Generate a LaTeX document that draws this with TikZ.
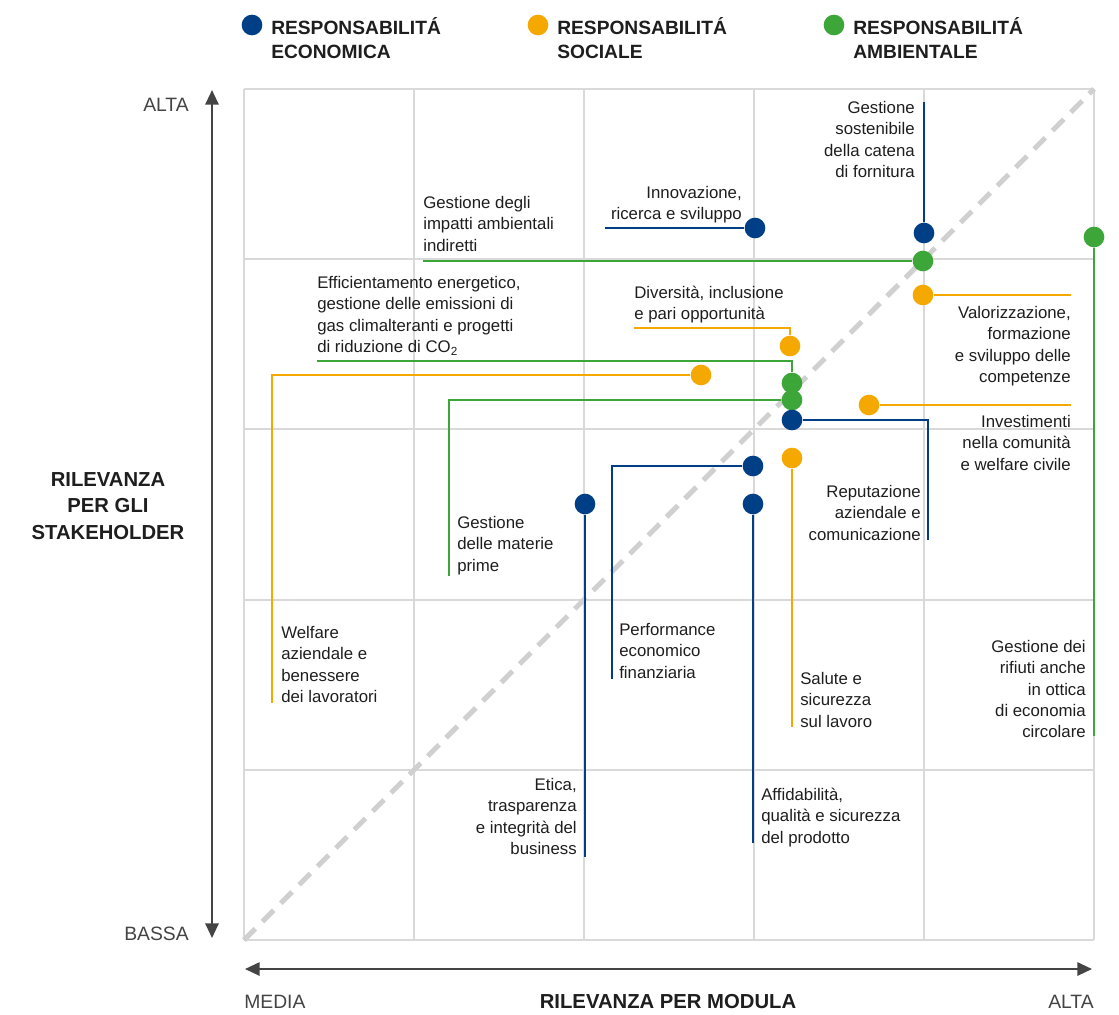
\documentclass[tikz,border=0pt]{standalone}
\usepackage{fontspec}
\setmainfont{Liberation Sans}
\usetikzlibrary{arrows.meta}

\definecolor{eco}{HTML}{003E86}
\definecolor{soc}{HTML}{F5A800}
\definecolor{amb}{HTML}{3DA639}
\definecolor{gridc}{HTML}{D9D9D9}
\definecolor{diagc}{HTML}{D0D0D0}
\definecolor{axisc}{HTML}{444444}
\definecolor{txt}{HTML}{1E1E1E}

\tikzset{
  dot/.style={circle, fill=#1, inner sep=0pt, minimum size=15.5pt},
  link/.style={draw=#1, line width=1.1pt},
  lbl/.style={inner sep=0pt, text=txt, font=\fontsize{12.6}{16}\selectfont},
  axlbl/.style={inner sep=0pt, text=axisc, font=\fontsize{14.5}{18}\selectfont},
  axtitle/.style={inner sep=0pt, text=txt, font=\bfseries\fontsize{15.2}{20}\selectfont},
  legtxt/.style={inner sep=0pt, text=txt, align=left, font=\bfseries\fontsize{14.4}{18}\selectfont},
  axline/.style={axisc, line width=1.5pt, >={Triangle[length=11pt,width=10pt]}, <->},
}

\begin{document}
\begin{tikzpicture}[x=0.75pt, y=-0.75pt]
    \useasboundingbox (0,0) rectangle (1119,1014);

    % legend
    \node[dot=eco] (legeco) at (252,25) {};
    \node[dot=soc] (legsoc) at (538,25) {};
    \node[dot=amb] (legamb) at (834,25) {};
    \node[legtxt, anchor=north west] (tleco) at (271,17) {RESPONSABILITÁ\\ECONOMICA};
    \node[legtxt, anchor=north west] (tlsoc) at (557,17) {RESPONSABILITÁ\\SOCIALE};
    \node[legtxt, anchor=north west] (tlamb) at (853,17) {RESPONSABILITÁ\\AMBIENTALE};

    % grid and diagonal
    \foreach \i in {0,...,5} {
        \draw[gridc, line width=1.5pt] (244+170*\i,89) -- (244+170*\i,940);
        \draw[gridc, line width=1.5pt] (244,89+170.2*\i) -- (1094,89+170.2*\i);
    }
    \draw[diagc, line width=3.75pt, dash pattern=on 12pt off 7.5pt] (244,940) -- (1094,89);

    % axes
    \coordinate (ytop) at (212,90);
    \coordinate (ybot) at (212,938);
    \coordinate (xleft) at (245,969);
    \coordinate (xright) at (1092,969);
    \draw[axline] (ybot) -- (ytop);
    \draw[axline] (xleft) -- (xright);
    \node[axlbl, anchor=base east] (yalta) at (189,111) {ALTA};
    \node[axlbl, anchor=base east] (ybassa) at (189,940) {BASSA};
    \node[axtitle, align=center, anchor=north] (ytitle) at (108,472) {RILEVANZA\\PER GLI\\STAKEHOLDER};
    \node[axlbl, anchor=base west] (xmedia) at (244,1008) {MEDIA};
    \node[axlbl, anchor=base east] (xalta) at (1094,1008) {ALTA};
    \node[axtitle, anchor=base] (xtitle) at (668,1008) {RILEVANZA PER MODULA};

    % connector ends
    \coordinate (inoA) at (605,228);
    \coordinate (catA) at (924,102);
    \coordinate (rifA) at (1094,736);
    \coordinate (indA) at (423,261);
    \coordinate (valA) at (1071,295);
    \coordinate (divA) at (634,328);
    \coordinate (effA) at (317,361);
    \coordinate (welA) at (272,375);
    \coordinate (welB) at (272,703);
    \coordinate (matA) at (449,400);
    \coordinate (matB) at (449,576);
    \coordinate (invA) at (1071,405);
    \coordinate (repA) at (928,420);
    \coordinate (repB) at (928,540);
    \coordinate (salA) at (792,727);
    \coordinate (perA) at (612,466);
    \coordinate (perB) at (612,679);
    \coordinate (affA) at (753,843);
    \coordinate (etiA) at (585,857);

    % dots
    \node[dot=eco] (ino) at (755,228) {};
    \node[dot=eco] (cat) at (924,233) {};
    \node[dot=amb] (rif) at (1094,237) {};
    \node[dot=amb] (ind) at (923,261) {};
    \node[dot=soc] (val) at (923,295) {};
    \node[dot=soc] (div) at (790,346) {};
    \node[dot=soc] (wel) at (701,375) {};
    \node[dot=amb] (mat) at (792,400) {};
    \node[dot=amb] (eff) at (792,383) {};
    \node[dot=soc] (inv) at (869,405) {};
    \node[dot=eco] (rep) at (792,420) {};
    \node[dot=soc] (sal) at (792,458) {};
    \node[dot=eco] (per) at (753,466) {};
    \node[dot=eco] (aff) at (753,504) {};
    \node[dot=eco] (eti) at (585,504) {};

    % connectors
    \draw[link=eco] (inoA) -- (ino);
    \draw[link=eco] (catA) -- (cat);
    \draw[link=amb] (rif) -- (rifA);
    \draw[link=amb] (indA) -- (ind);
    \draw[link=soc] (val) -- (valA);
    \draw[link=soc] (divA) -| (div);
    \draw[link=amb] (effA) -| (eff);
    \draw[link=soc] (wel) -- (welA) -- (welB);
    \draw[link=amb] (mat) -- (matA) -- (matB);
    \draw[link=soc] (inv) -- (invA);
    \draw[link=eco] (rep) -- (repA) -- (repB);
    \draw[link=soc] (sal) -- (salA);
    \draw[link=eco] (per) -- (perA) -- (perB);
    \draw[link=eco] (aff) -- (affA);
    \draw[link=eco] (eti) -- (etiA);

    % labels
    \node[lbl, align=right, anchor=north east] (tino) at (742,186) {Innovazione,\\ricerca e sviluppo};
    \node[lbl, align=right, anchor=north east] (tcat) at (915,101) {Gestione\\sostenibile\\della catena\\di fornitura};
    \node[lbl, align=right, anchor=north east] (trif) at (1086,640) {Gestione dei\\rifiuti anche\\in ottica\\di economia\\circolare};
    \node[lbl, align=left, anchor=north west] (tind) at (423,196) {Gestione degli\\impatti ambientali\\indiretti};
    \node[lbl, align=right, anchor=north east] (tval) at (1071,306) {Valorizzazione,\\formazione\\e sviluppo delle\\competenze};
    \node[lbl, align=left, anchor=north west] (tdiv) at (634,286) {Diversità, inclusione\\e pari opportunità};
    \node[lbl, align=left, anchor=north west] (teff) at (317,276) {Efficientamento energetico,\\gestione delle emissioni di\\gas climalteranti e progetti\\di riduzione di CO\textsubscript{2}};
    \node[lbl, align=left, anchor=north west] (twel) at (281,626) {Welfare\\aziendale e\\benessere\\dei lavoratori};
    \node[lbl, align=left, anchor=north west] (tmat) at (457,516) {Gestione\\delle materie\\prime};
    \node[lbl, align=right, anchor=north east] (tinv) at (1071,415) {Investimenti\\nella comunità\\e welfare civile};
    \node[lbl, align=right, anchor=north east] (trep) at (921,485) {Reputazione\\aziendale e\\comunicazione};
    \node[lbl, align=left, anchor=north west] (tsal) at (800,672) {Salute e\\sicurezza\\sul lavoro};
    \node[lbl, align=left, anchor=north west] (tper) at (619,623) {Performance\\economico\\finanziaria};
    \node[lbl, align=left, anchor=north west] (taff) at (761,788) {Affidabilità,\\qualità e sicurezza\\del prodotto};
    \node[lbl, align=right, anchor=north east] (teti) at (577,778) {Etica,\\trasparenza\\e integrità del\\business};
\end{tikzpicture}
\end{document}
